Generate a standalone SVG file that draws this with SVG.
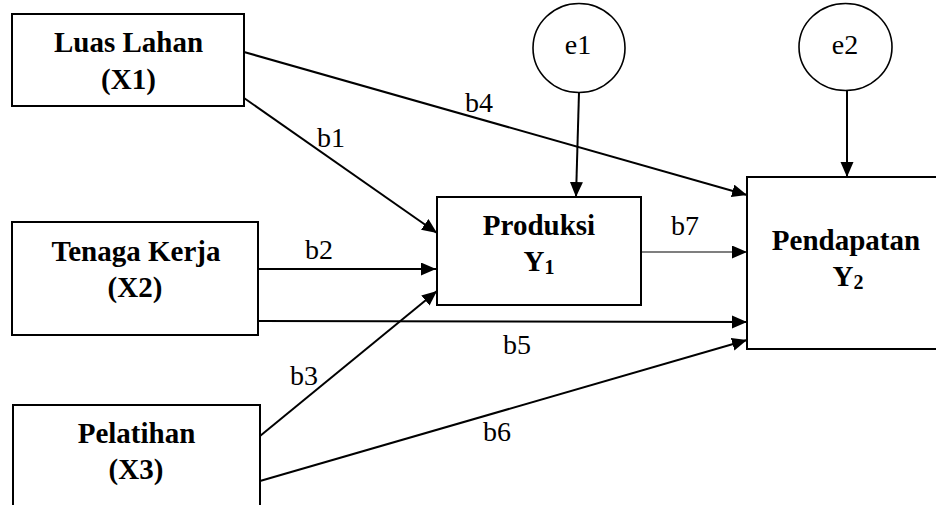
<svg xmlns="http://www.w3.org/2000/svg" width="936" height="505" viewBox="0 0 936 505">
<style>
.box{fill:#fff;stroke:#000;stroke-width:2}
.circ{fill:#fff;stroke:#000;stroke-width:1.6}
text{font-family:"Liberation Serif","Times New Roman",Tinos,"DejaVu Serif",serif;fill:#000}
.bt{font-weight:bold;font-size:29px;text-anchor:middle}
.lt{font-size:28px}
.ct{font-size:28px;text-anchor:middle}
.ln{stroke:#000;stroke-width:2;fill:none;marker-end:url(#ah)}
.thin{stroke-width:1.2}
</style>
<defs>
<marker id="ah" markerUnits="userSpaceOnUse" markerWidth="16" markerHeight="14" refX="15" refY="6.5" orient="auto">
<path d="M0,0 L15,6.5 L0,13 z" fill="#000"/>
</marker>
</defs>
<rect width="936" height="505" fill="#fff"/>
<g id="connectors">
<line class="ln" x1="244" y1="98" x2="437" y2="233"/>
<line class="ln" x1="244" y1="52" x2="747" y2="195"/>
<line class="ln" x1="258" y1="269" x2="436" y2="269"/>
<line class="ln" x1="258" y1="321" x2="747" y2="322"/>
<line class="ln" x1="260" y1="436" x2="437" y2="291"/>
<line class="ln" x1="260" y1="481" x2="747" y2="340"/>
<line class="ln thin" x1="641" y1="252" x2="747" y2="252"/>
<line class="ln" x1="579" y1="92" x2="576" y2="197"/>
<line class="ln" x1="847" y1="90" x2="847" y2="177"/>
<text class="lt" x="317" y="147">b1</text>
<text class="lt" x="465" y="112">b4</text>
<text class="lt" x="305" y="259">b2</text>
<text class="lt" x="503" y="354">b5</text>
<text class="lt" x="290" y="385">b3</text>
<text class="lt" x="483" y="441">b6</text>
<text class="lt" x="671" y="235">b7</text>
</g>
<g id="x1">
<rect class="box" x="12" y="14" width="232" height="92"/>
<text class="bt" x="128.5" y="52">Luas Lahan</text>
<text class="bt" x="128.5" y="89">(X1)</text>
</g>
<g id="x2">
<rect class="box" x="12" y="222" width="246" height="113"/>
<text class="bt" x="136" y="261">Tenaga Kerja</text>
<text class="bt" x="135" y="297">(X2)</text>
</g>
<g id="x3">
<rect class="box" x="13" y="405" width="247" height="120"/>
<text class="bt" x="136.5" y="443">Pelatihan</text>
<text class="bt" x="136" y="479">(X3)</text>
</g>
<g id="y1">
<rect class="box" x="437" y="197" width="204" height="108"/>
<text class="bt" x="539" y="235">Produksi</text>
<text class="bt" x="539" y="271">Y<tspan font-size="20" dy="3">1</tspan></text>
</g>
<g id="y2">
<rect class="box" x="747" y="177" width="210" height="172"/>
<text class="bt" x="846" y="250">Pendapatan</text>
<text class="bt" x="848" y="286">Y<tspan font-size="20" dy="3">2</tspan></text>
</g>
<g id="e1">
<ellipse class="circ" cx="579" cy="48" rx="46" ry="44.5"/>
<text class="ct" x="578" y="54">e1</text>
</g>
<g id="e2">
<ellipse class="circ" cx="845.5" cy="47" rx="46.5" ry="43.5"/>
<text class="ct" x="845" y="54">e2</text>
</g>
</svg>
